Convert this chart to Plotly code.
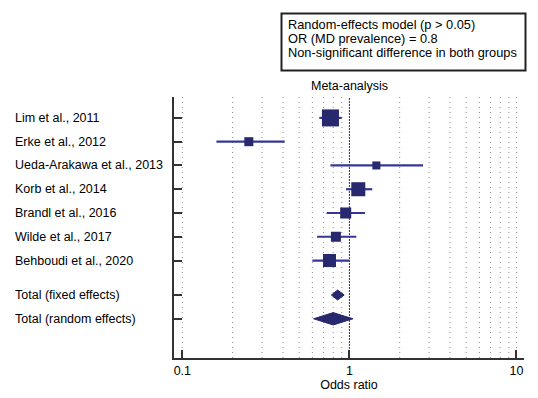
import numpy as np
import plotly.graph_objects as go

studies = ["Lim et al., 2011", "Erke et al., 2012", "Ueda-Arakawa et al., 2013",
           "Korb et al., 2014", "Brandl et al., 2016", "Wilde et al., 2017",
           "Behboudi et al., 2020"]
odds_ratio = [0.77, 0.25, 1.45, 1.13, 0.95, 0.83, 0.76]
ci_low = [0.66, 0.16, 0.77, 0.955, 0.73, 0.64, 0.60]
ci_high = [0.90, 0.41, 2.76, 1.37, 1.24, 1.10, 1.00]
weights = [28.3, 7.9, 6.3, 19.2, 11.9, 9.8, 16.6]

pooled_labels = ["Total (fixed effects)", "Total (random effects)"]
pooled_or = [0.85, 0.80]
pooled_low = [0.78, 0.61]
pooled_high = [0.93, 1.05]

x_ticks = [0.1, 1, 10]
x_tick_text = ["0.1", "1", "10"]

info_lines = ["Random-effects model (p > 0.05)", "OR (MD prevalence) = 0.8",
              "Non-significant difference in both groups"]

study_y = list(range(1, len(studies) + 1))
pooled_y = [8.45, 9.45]
diamond_half = [0.21, 0.26]

sq_color = "#28286e"
line_color = "#36369a"
axis_color = "#333333"
FS = 12.5
FS_BOX = 12.8

fig = go.Figure()

grid_vals = []
for dec in [0.1, 1]:
    for d in range(1, 10):
        grid_vals.append(dec * d)
grid_vals.append(10)
for g in grid_vals:
    if abs(g - 1) < 1e-9:
        fig.add_shape(type="line", xref="x", yref="paper", x0=g, x1=g, y0=0, y1=1,
                      line=dict(color="#2a2a80", width=1, dash="2px,1px"), layer="below")
    else:
        fig.add_shape(type="line", xref="x", yref="paper", x0=g, x1=g, y0=0, y1=1,
                      line=dict(color="#8a8a8a", width=1, dash="1px,4px"), layer="below")

sizes = [32 * np.sqrt(w / 100) for w in weights]
fig.add_trace(go.Scatter(
    x=odds_ratio, y=study_y, mode="markers",
    marker=dict(symbol="square", size=sizes, color=sq_color, opacity=1, line=dict(width=0)),
    error_x=dict(type="data", symmetric=False,
                 array=[h - o for h, o in zip(ci_high, odds_ratio)],
                 arrayminus=[o - l for o, l in zip(odds_ratio, ci_low)],
                 color=line_color, thickness=2.2, width=0),
    showlegend=False, hoverinfo="skip"))

for o, lo, hi, yy, hh in zip(pooled_or, pooled_low, pooled_high, pooled_y, diamond_half):
    fig.add_trace(go.Scatter(
        x=[lo, o, hi, o, lo], y=[yy, yy - hh, yy, yy + hh, yy],
        mode="lines", fill="toself", fillcolor=sq_color,
        line=dict(color=sq_color, width=1), showlegend=False, hoverinfo="skip"))

L, R, T, B = 174, 14, 97, 40
W, H = 538, 398
pw = W - L - R
ph = H - T - B


def px_x(p):
    return (p - L) / pw


def px_y(p):
    return (H - B - p) / ph


for lab, yy in zip(studies + pooled_labels, study_y + pooled_y):
    fig.add_annotation(x=px_x(13), xref="paper", y=yy, yref="y", text=lab,
                       showarrow=False, xanchor="left", yanchor="middle",
                       font=dict(size=FS, color="#000000"))

fig.add_shape(type="rect", xref="paper", yref="paper",
              x0=px_x(281.5), x1=px_x(525.5), y0=px_y(13.5), y1=px_y(70.5),
              line=dict(color="#222222", width=2), fillcolor="white")
for line, yp in zip(info_lines, [25, 39, 52.5]):
    fig.add_annotation(x=px_x(286), xref="paper", y=px_y(yp), yref="paper",
                       xanchor="left", yanchor="middle", showarrow=False,
                       text=line, font=dict(size=FS_BOX, color="#000000"))

fig.add_annotation(x=px_x(349), xref="paper", y=px_y(86), yref="paper",
                   xanchor="center", yanchor="middle", showarrow=False,
                   text="Meta-analysis", font=dict(size=FS, color="#000000"))

fig.update_layout(
    width=W, height=H,
    margin=dict(l=L, r=R, t=T, b=B),
    paper_bgcolor="white", plot_bgcolor="white",
    font=dict(family="Liberation Sans, Arial, sans-serif", size=FS, color="#000000"),
    xaxis=dict(type="log", range=[-1.05, 1.045], showgrid=False, zeroline=False,
               tickvals=x_ticks, ticktext=x_tick_text, ticks="inside", ticklen=8,
               tickwidth=2, tickcolor=axis_color, showline=True, linewidth=2,
               linecolor=axis_color, automargin=False,
               title=dict(text="Odds ratio", font=dict(size=FS), standoff=2)),
    yaxis=dict(range=[11.1, 0.12], showgrid=False, zeroline=False,
               tickvals=study_y + pooled_y, showticklabels=False, ticks="inside",
               ticklen=8, tickwidth=2, tickcolor=axis_color, showline=True,
               linewidth=2, linecolor=axis_color, automargin=False),
)

fig.write_html("out.html", config={"displayModeBar": False},
               post_script="document.body.style.margin='0';")
